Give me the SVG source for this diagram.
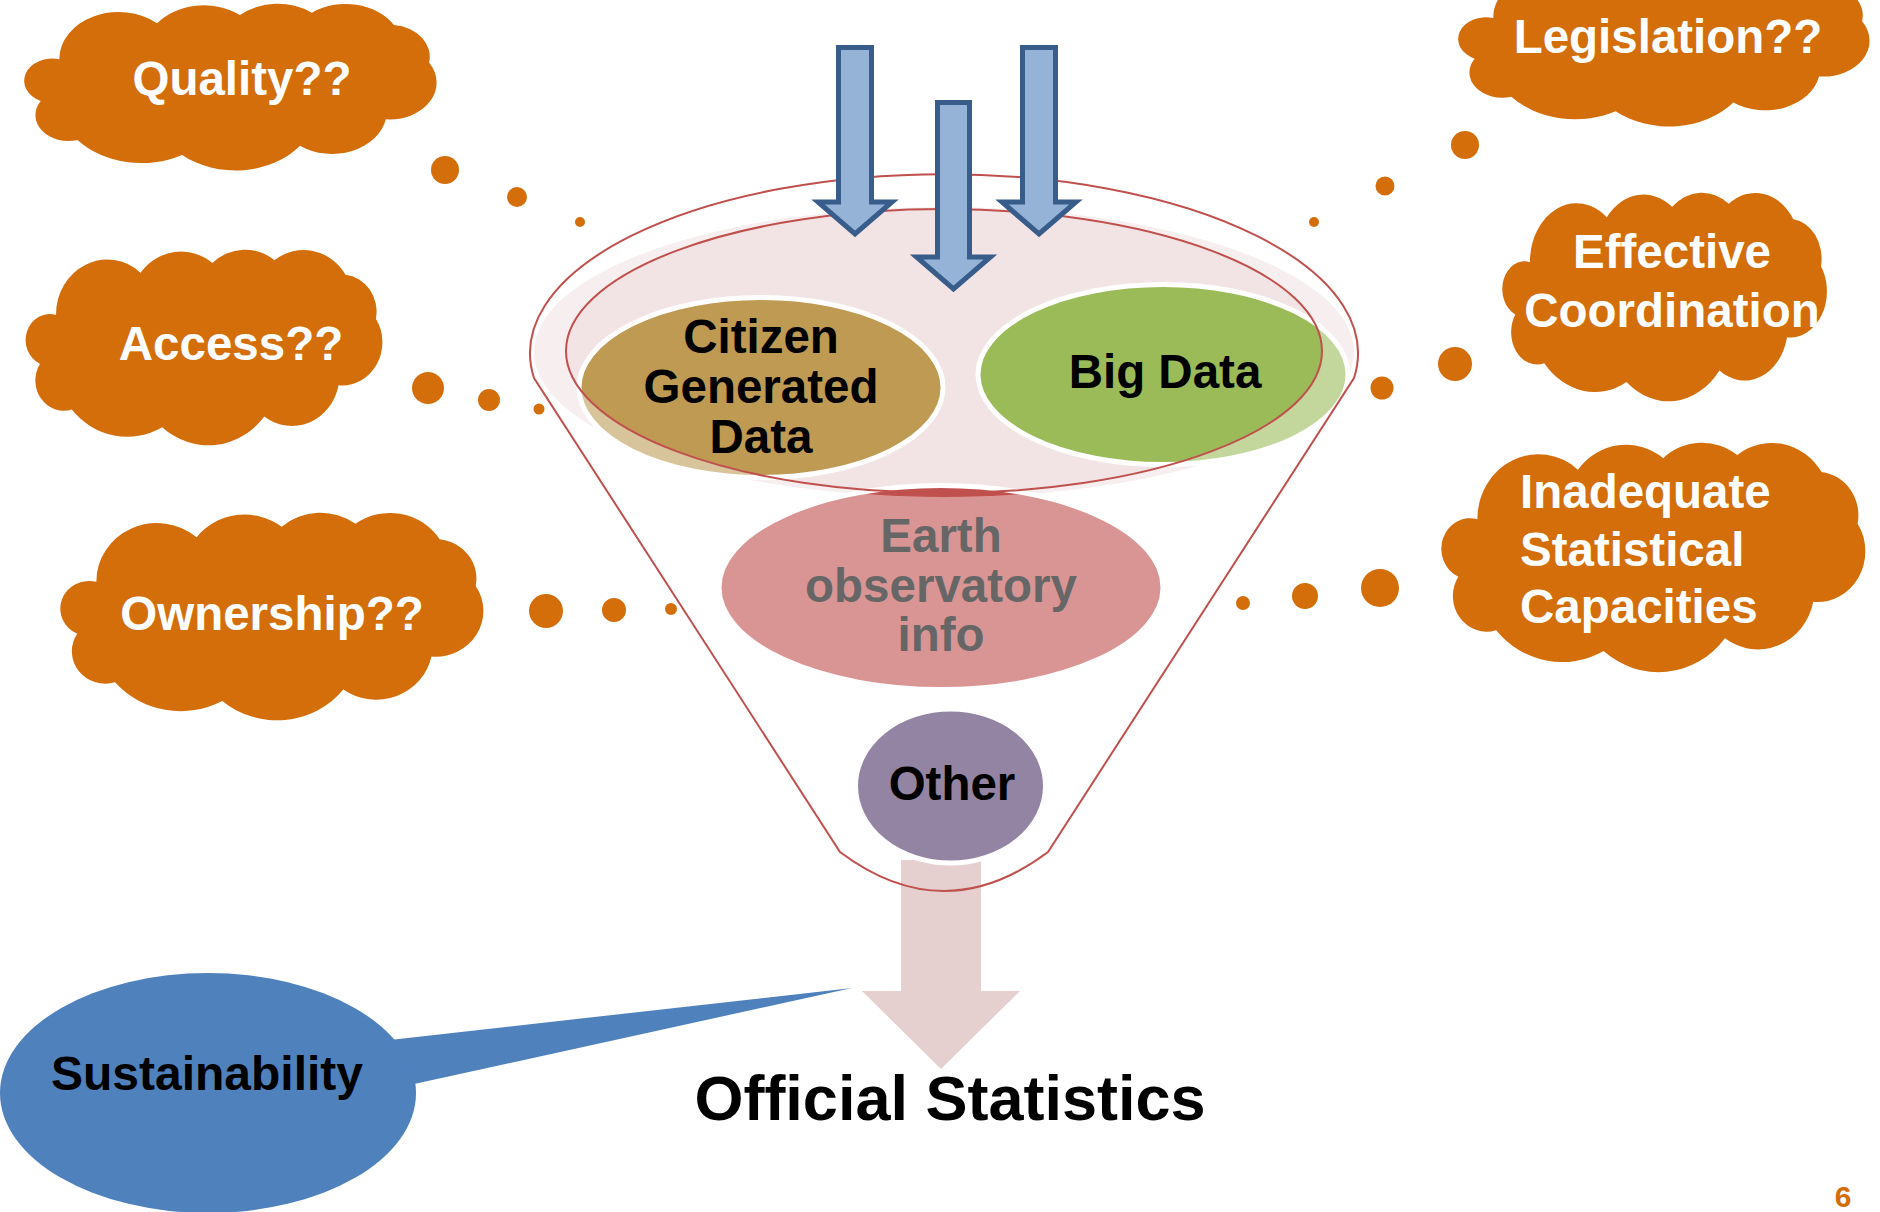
<svg xmlns="http://www.w3.org/2000/svg" xmlns:xlink="http://www.w3.org/1999/xlink" width="1880" height="1212" viewBox="0 0 1880 1212">
<style>
.cloud{fill:#d36e0b}
.dot{fill:#d36e0b}
.ct{font-family:"Liberation Sans",Arial,sans-serif;font-weight:bold;font-size:47.5px;fill:#ffffff;text-anchor:middle}
.ctl{font-family:"Liberation Sans",Arial,sans-serif;font-weight:bold;font-size:47.5px;fill:#ffffff}
.nt{font-family:"Liberation Sans",Arial,sans-serif;font-weight:bold;font-size:47.5px;fill:#000000;text-anchor:middle}
.blue{fill:#95b3d7;stroke:#385d8a;stroke-width:5;stroke-linejoin:miter}
.red{fill:none;stroke:#c0504d;stroke-width:2}
.wline{fill:none;stroke:#ffffff;stroke-width:5}
</style>
<defs>
<path id="cloud" d="M18.6,33.1 A28,28 0 0 1 64.8,11.6 A28,28 0 0 1 104,6.6 A27,27 0 0 1 138,5.2 A27,27 0 0 1 176.8,12.6 A19,19 0 0 1 193.4,35.1 A22,22 0 0 1 173,69 A26,26 0 0 1 132.4,84.9 A39,39 0 0 1 76.6,90.4 A40,40 0 0 1 27.2,81.4 A15.5,15.5 0 0 1 9.8,58.1 A13.3,13.3 0 0 1 18.6,33.1 Z"/>
<clipPath id="inner"><ellipse cx="944" cy="351" rx="378" ry="142"/></clipPath>
<clipPath id="innerE"><ellipse cx="944" cy="351" rx="380" ry="146"/></clipPath>
</defs>
<rect width="1880" height="1212" fill="#ffffff"/>

<g id="funnel-back">
<ellipse cx="944" cy="352" rx="410" ry="145" fill="#f7efef"/>
<ellipse cx="944" cy="351" rx="378" ry="142" fill="#f2e4e4"/>
</g>

<g id="node-citizen">
<ellipse cx="761" cy="387.5" rx="182" ry="90" fill="#d8c49b"/>
<ellipse cx="761" cy="387.5" rx="182" ry="90" fill="#be9a53" clip-path="url(#inner)"/>
<ellipse cx="761" cy="387.5" rx="182" ry="90" class="wline"/>
<text class="nt" x="761" y="353">Citizen</text>
<text class="nt" x="761" y="403">Generated</text>
<text class="nt" x="761" y="453">Data</text>
</g>

<g id="node-bigdata">
<ellipse cx="1163" cy="374.5" rx="185" ry="90" fill="#c3d69b"/>
<ellipse cx="1163" cy="374.5" rx="185" ry="90" fill="#9bbb59" clip-path="url(#inner)"/>
<ellipse cx="1163" cy="374.5" rx="185" ry="90" class="wline"/>
<text class="nt" x="1165" y="388">Big Data</text>
</g>

<g id="node-earth">
<ellipse cx="941" cy="587.5" rx="222" ry="102" fill="#d99594"/>
<ellipse cx="941" cy="587.5" rx="222" ry="102" fill="#c0504d" clip-path="url(#innerE)"/>
<ellipse cx="941" cy="587.5" rx="222" ry="102" class="wline"/>
<text class="nt" x="941" y="552" style="fill:#666666">Earth</text>
<text class="nt" x="941" y="602" style="fill:#666666">observatory</text>
<text class="nt" x="941" y="651" style="fill:#666666">info</text>
</g>

<g id="output-arrow">
<path d="M901,860 H981 V991 H1020 L941,1069 L862,991 H901 Z" fill="#e6cfcf"/>
</g>

<g id="node-other">
<ellipse cx="950.5" cy="786" rx="95" ry="77" fill="#9484a3" stroke="#ffffff" stroke-width="5"/>
<text class="nt" x="952" y="800">Other</text>
</g>

<g id="funnel-outline">
<path class="red" d="M534,378 A414,179 0 1 1 1354,378 L1048,852 Q944,930 840,852 Z"/>
<ellipse class="red" cx="944" cy="351" rx="378" ry="142"/>
</g>

<g id="connectors">
<path class="blue" d="M838.5,47.5 H871.5 V202 H892 L855,234 L818,202 H838.5 Z"/>
<path class="blue" d="M937.5,102.5 H969.5 V257 H990.5 L953.5,289 L916.5,257 H937.5 Z"/>
<path class="blue" d="M1022.5,47.5 H1055.5 V202 H1076 L1039,234 L1002,202 H1022.5 Z"/>
<circle class="dot" cx="445" cy="170" r="14"/>
<circle class="dot" cx="517" cy="197" r="10"/>
<circle class="dot" cx="580" cy="222" r="5"/>
<circle class="dot" cx="428" cy="388" r="16"/>
<circle class="dot" cx="489" cy="400" r="11"/>
<circle class="dot" cx="539" cy="409" r="5.5"/>
<circle class="dot" cx="546" cy="611" r="17"/>
<circle class="dot" cx="614" cy="610" r="12"/>
<circle class="dot" cx="671" cy="609" r="6"/>
<circle class="dot" cx="1465" cy="145" r="14"/>
<circle class="dot" cx="1385" cy="186" r="9.5"/>
<circle class="dot" cx="1314" cy="222" r="5"/>
<circle class="dot" cx="1455" cy="364" r="17"/>
<circle class="dot" cx="1382" cy="388" r="11.5"/>
<circle class="dot" cx="1380" cy="588" r="19"/>
<circle class="dot" cx="1305" cy="596" r="13"/>
<circle class="dot" cx="1243" cy="603" r="7"/>
</g>

<g id="node-quality">
<use xlink:href="#cloud" class="cloud" transform="translate(20,4) scale(2.115,1.67)"/>
<text class="ct" x="242" y="95">Quality??</text>
</g>
<g id="node-access">
<use xlink:href="#cloud" class="cloud" transform="translate(22,250) scale(1.83,1.96)"/>
<text class="ct" x="231" y="360">Access??</text>
</g>
<g id="node-ownership">
<use xlink:href="#cloud" class="cloud" transform="translate(56,513) scale(2.17,2.08)"/>
<text class="ct" x="272" y="630">Ownership??</text>
</g>
<g id="node-legislation">
<use xlink:href="#cloud" class="cloud" transform="translate(1454,-36) scale(2.11,1.63)"/>
<text class="ct" x="1668" y="53">Legislation??</text>
</g>
<g id="node-coordination">
<use xlink:href="#cloud" class="cloud" transform="translate(1499,193) scale(1.665,2.09)"/>
<text class="ct" x="1672" y="268">Effective</text>
<text class="ct" x="1672" y="327">Coordination</text>
</g>
<g id="node-capacities">
<use xlink:href="#cloud" class="cloud" transform="translate(1437,443) scale(2.175,2.3)"/>
<text class="ctl" x="1520" y="508">Inadequate</text>
<text class="ctl" x="1520" y="566">Statistical</text>
<text class="ctl" x="1520" y="623">Capacities</text>
</g>

<g id="node-sustainability">
<ellipse cx="208" cy="1093" rx="208" ry="120" fill="#4f81bd"/>
<polygon points="390,1040 852,988 414,1084" fill="#4f81bd"/>
<text class="nt" x="207" y="1090" style="font-size:48px">Sustainability</text>
</g>

<g id="node-official">
<text class="nt" x="950" y="1120" style="font-size:63px">Official Statistics</text>
</g>

<text x="1843" y="1207" font-family="Liberation Sans, Arial, sans-serif" font-weight="bold" font-size="30" fill="#d36e0b" text-anchor="middle">6</text>
</svg>
